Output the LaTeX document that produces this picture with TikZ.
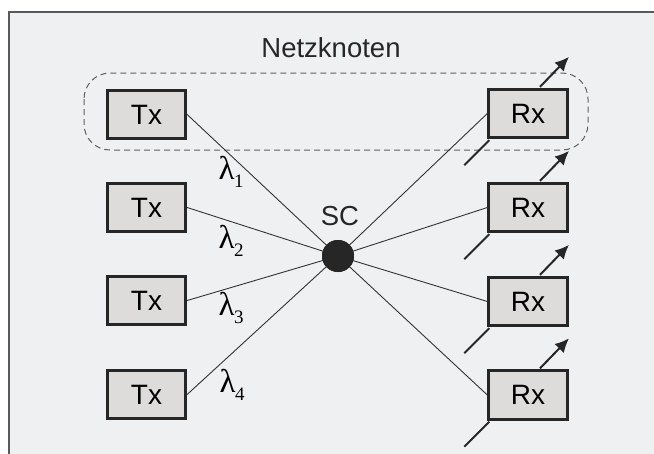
\documentclass[tikz,border=0pt]{standalone}
\usepackage{fontspec}
\setmainfont{Liberation Sans}
\newfontfamily\serifgr{Liberation Serif}
\usetikzlibrary{arrows.meta}
\definecolor{bg}{HTML}{EFF0F2}
\definecolor{boxfill}{HTML}{DDDCDA}
\definecolor{boxline}{HTML}{262626}
\definecolor{framecol}{HTML}{5A5A5A}
\definecolor{linecol}{HTML}{333333}
\definecolor{dashcol}{HTML}{606060}
\newcommand{\lam}[1]{{\serifgr\fontsize{33}{33}\selectfont λ\kern-0.5pt\raisebox{-0.22em}{\fontsize{19}{19}\selectfont #1}}}
\begin{document}
\begin{tikzpicture}[x=1pt,y=-1pt,
  box/.style={draw=boxline,fill=boxfill,line width=2.8pt,minimum width=78.5pt,minimum height=48.5pt,inner sep=0pt,font=\fontsize{28}{28}\selectfont},
  link/.style={draw=linecol,line width=0.9pt},
  rxarrow/.style={draw=boxline,line width=2pt,-{Latex[length=14pt,width=13pt]}},
  rxin/.style={draw=boxline,line width=2pt},
  lbl/.style={font=\fontsize{27.5}{27.5}\selectfont,text=black!85,inner sep=0pt}]
\useasboundingbox (0,0) rectangle (654,453);
\clip (0,0) rectangle (654,453);
\fill[white] (0,0) rectangle (654,453);
\draw[framecol,line width=1.2pt,fill=bg] (9,12) rectangle (680,480);
\draw[dashcol,line width=1pt,dash pattern=on 6pt off 4pt,rounded corners=26pt] (84,73) rectangle (588,150);
\node[lbl] (netz) at (331,48) {Netzknoten};
\node[lbl] (sclbl) at (340,216) {SC};
\node[circle,fill=boxline,minimum size=32pt,inner sep=0pt] (sc) at (338,256) {};
\node[box] (tx1) at (146.5,114.5) {Tx};
\node[box] (tx2) at (146.5,207.5) {Tx};
\node[box] (tx3) at (146.5,300.5) {Tx};
\node[box] (tx4) at (146.5,394.5) {Tx};
\node[box] (rx1) at (528,113.5) {Rx};
\node[box] (rx2) at (528,207.5) {Rx};
\node[box] (rx3) at (528,301.5) {Rx};
\node[box] (rx4) at (528,395) {Rx};
\foreach \n in {tx1,tx2,tx3,tx4} {\draw[link] (\n.east) -- (sc.center);}
\foreach \n in {rx1,rx2,rx3,rx4} {\draw[link] (sc.center) -- (\n.west);}
\node[circle,fill=boxline,minimum size=32pt,inner sep=0pt] at (sc.center) {};
\foreach \n in {rx1,rx2,rx3,rx4} {
  \draw[rxarrow] (\n.north) ++(12,-1) -- ++(29,-30);
  \draw[rxin] (\n.south west) ++(2,1) -- ++(-25,25);
}
\node[inner sep=0pt] (l1) at (231,172) {\lam{1}};
\node[inner sep=0pt] (l2) at (231,241) {\lam{2}};
\node[inner sep=0pt] (l3) at (231,308) {\lam{3}};
\node[inner sep=0pt] (l4) at (232,385) {\lam{4}};
\end{tikzpicture}
\end{document}
